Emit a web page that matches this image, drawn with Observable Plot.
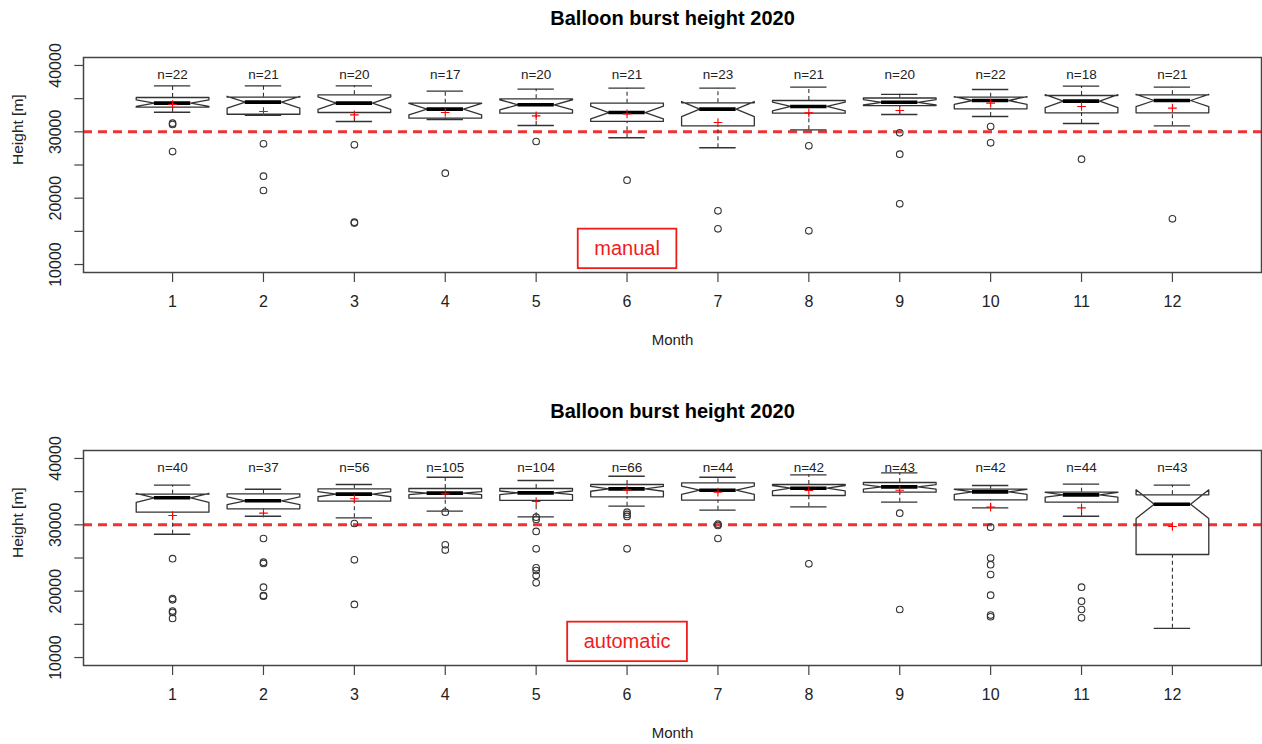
<!DOCTYPE html>
<html>
<head>
<meta charset="utf-8">
<script src="https://cdn.jsdelivr.net/npm/d3@7"></script>
<script src="https://cdn.jsdelivr.net/npm/@observablehq/plot@0.6"></script>
<style>
  html, body { margin: 0; padding: 0; background: #fff; }
  #chart { width: 1262px; }
  #chart svg { display: block; }
</style>
</head>
<body>
<div id="chart"></div>
<script>
// ---------- data ----------
const months = [1, 2, 3, 4, 5, 6, 7, 8, 9, 10, 11, 12];
const yTickLabels = [10000, 20000, 30000, 40000];
const threshold = 30000;
const titleText = "Balloon burst height 2020";

// manual launches
const manualN      = [22, 21, 20, 17, 20, 21, 23, 21, 20, 22, 18, 21];
const manualHigh   = [36930, 36930, 36930, 36130, 36430, 36580, 36580, 36730, 35650, 36380, 36880, 36730];
const manualQ3     = [35170, 35220, 35580, 34320, 34970, 34320, 34370, 34720, 35100, 35220, 35470, 35580];
const manualMedian = [34320, 34470, 34320, 33420, 34070, 32910, 33420, 33820, 34450, 34720, 34620, 34720];
const manualQ1     = [33720, 32650, 32910, 32060, 32810, 31560, 30900, 32810, 33950, 33470, 32860, 32860];
const manualLow    = [32960, 32500, 31560, 31860, 30950, 29100, 27590, 30300, 32600, 32310, 31260, 30900];
const manualMean   = [34120, 33060, 32560, 32910, 32410, 32710, 31400, 32860, 33210, 34320, 33820, 33570];
const manualOutliers = [
  [31300, 31100, 27030],
  [28190, 23320, 21160],
  [28040, 16390, 16250],
  [23770],
  [28540],
  [22720],
  [18090, 15380],
  [27890, 15080],
  [29850, 26630, 19150],
  [30800, 28340],
  [25880],
  [16890]
];

// automatic launches
const autoN      = [40, 37, 56, 105, 104, 66, 44, 42, 43, 42, 44, 43];
const autoHigh   = [35980, 35370, 36080, 37180, 36680, 37330, 37180, 37530, 37830, 35930, 36130, 35980];
const autoQ3     = [34620, 34670, 35420, 35470, 35470, 36080, 36330, 36080, 36380, 35370, 34920, 34520];
const autoMedian = [34070, 33620, 34620, 34770, 34820, 35420, 35220, 35520, 35720, 34970, 34520, 33110];
const autoQ1     = [31910, 32410, 33570, 34020, 33670, 34220, 33720, 34420, 34920, 33770, 33420, 25530];
const autoLow    = [28590, 31300, 31050, 32060, 31200, 32810, 32210, 32710, 33420, 32560, 31300, 14400];
const autoMean   = [31410, 31760, 33920, 34670, 33520, 35270, 34920, 35170, 35220, 32660, 32560, 29750];
const autoOutliers = [
  [24900, 18900, 18700, 17000, 16800, 15900],
  [27940, 24370, 24170, 20610, 19350, 19250],
  [30200, 24730, 18000],
  [31900, 27000, 26200],
  [31150, 30800, 29000, 26380, 23520, 23120, 22360, 21260],
  [31910, 31560, 31260, 26380],
  [30100, 29900, 27940],
  [24120],
  [31760, 17240],
  [29650, 25000, 24000, 22500, 19400, 16400, 16150],
  [20610, 18500, 17240, 15990],
  []
];

// ---------- drawing ----------
const FONT = "'Liberation Sans', Arial, Helvetica, sans-serif";
const INK = "#333";
const RED = "#f01c1c";
const HALF = 0.4; // half box width (R default width 0.8)

function panel({n, high, q3, med, q1, low, mean, outliers, label, height, marginBottom}) {
  const rows = months.map((m, i) => ({
    month: m, n: n[i], high: high[i], q3: q3[i], med: med[i], q1: q1[i], low: low[i], mean: mean[i]
  }));
  // R notched box outline: notch = median +/- 1.58 * IQR / sqrt(n)
  const poly = rows.flatMap(r => {
    const h = 1.58 * (r.q3 - r.q1) / Math.sqrt(r.n);
    const lo = r.med - h, hi = r.med + h, m = r.month;
    return [
      [m - HALF, r.q1], [m - HALF, lo], [m - HALF / 2, r.med], [m - HALF, hi], [m - HALF, r.q3],
      [m + HALF, r.q3], [m + HALF, hi], [m + HALF / 2, r.med], [m + HALF, lo], [m + HALF, r.q1],
      [m - HALF, r.q1]
    ].map(([x, y]) => ({month: m, x, y}));
  });
  const outs = months.flatMap((m, i) => outliers[i].map(v => ({month: m, value: v})));

  const svg = Plot.plot({
    width: 1262,
    height,
    marginLeft: 83,
    marginRight: 1,
    marginTop: 57,
    marginBottom,
    x: {type: "linear", domain: [0.02, 12.98]},
    y: {domain: [8800, 41200]},
    style: {fontFamily: FONT, background: "white", color: "#222", overflow: "visible"},
    marks: [
      Plot.ruleY([threshold], {stroke: RED, strokeOpacity: 0.9, strokeWidth: 3, strokeDasharray: "9,6"}),
      Plot.ruleX(rows, {x: "month", y1: "q3", y2: "high", stroke: INK, strokeWidth: 1.1, strokeDasharray: "4,3"}),
      Plot.ruleX(rows, {x: "month", y1: "low", y2: "q1", stroke: INK, strokeWidth: 1.1, strokeDasharray: "4,3"}),
      Plot.ruleY(rows, {y: "high", x1: d => d.month - HALF / 2, x2: d => d.month + HALF / 2, stroke: INK, strokeWidth: 1.4}),
      Plot.ruleY(rows, {y: "low", x1: d => d.month - HALF / 2, x2: d => d.month + HALF / 2, stroke: INK, strokeWidth: 1.4}),
      Plot.line(poly, {x: "x", y: "y", z: "month", stroke: INK, strokeWidth: 1.3}),
      Plot.ruleY(rows, {y: "med", x1: d => d.month - HALF / 2, x2: d => d.month + HALF / 2, stroke: "#000", strokeWidth: 3.6}),
      Plot.dot(outs, {x: "month", y: "value", r: 3.3, stroke: INK, strokeWidth: 1.1}),
      Plot.dot(rows, {x: "month", y: "mean", symbol: "plus", r: 2.9, stroke: "#ff0000", strokeWidth: 1.1}),
      Plot.text(rows, {x: "month", text: d => `n=${d.n}`, frameAnchor: "top", dy: 17, lineAnchor: "middle", fontSize: 13.5, fill: "#222"}),
      Plot.frame({stroke: "#444", strokeWidth: 1.5}),
      Plot.axisY({ticks: d3.range(10000, 40001, 5000), tickSize: 8.7, tickFormat: () => "", label: null, stroke: "#444", strokeWidth: 1.2}),
      Plot.text(yTickLabels, {y: d => d, text: d => String(d), frameAnchor: "left", dx: -28, rotate: -90, lineAnchor: "middle", textAnchor: "middle", fontSize: 16, fill: "#222"}),
      Plot.text(["Height [m]"], {frameAnchor: "left", dx: -65, rotate: -90, lineAnchor: "middle", fontSize: 15.5, fill: "#222"}),
      Plot.axisX({ticks: months, tickSize: 10, tickPadding: 13, tickFormat: d => String(d), label: null, fontSize: 16, stroke: "#444", strokeWidth: 1.2}),
      Plot.text(["Month"], {frameAnchor: "bottom", dy: 68, lineAnchor: "middle", fontSize: 15, fill: "#222"}),
      Plot.text([titleText], {frameAnchor: "top", dy: -39, lineAnchor: "middle", fontSize: 20, fontWeight: "bold", fill: "#000"}),
      Plot.text([label], {x: () => months[5], frameAnchor: "bottom", dy: -23.5, lineAnchor: "middle", fontSize: 20, fill: RED})
    ]
  });
  return svg;
}

const chart = document.getElementById("chart");
const panels = [
  {n: manualN, high: manualHigh, q3: manualQ3, med: manualMedian, q1: manualQ1, low: manualLow, mean: manualMean,
   outliers: manualOutliers, label: "manual", height: 393, marginBottom: 121},
  {n: autoN, high: autoHigh, q3: autoQ3, med: autoMedian, q1: autoQ1, low: autoLow, mean: autoMean,
   outliers: autoOutliers, label: "automatic", height: 351, marginBottom: 79}
];

for (const p of panels) {
  const svg = panel(p);
  chart.appendChild(svg);
  // boxed annotation (like R's legend box) around the label text
  const t = Array.from(svg.querySelectorAll("text")).find(el => el.textContent === p.label);
  if (t) {
    const sb = svg.getBoundingClientRect();
    const tb = t.getBoundingClientRect();
    const cx = tb.left + tb.width / 2 - sb.left;
    const cy = tb.top + tb.height / 2 - sb.top;
    const w = tb.width + 33, h = 39.5;
    const rect = document.createElementNS("http://www.w3.org/2000/svg", "rect");
    rect.setAttribute("x", cx - w / 2);
    rect.setAttribute("y", cy - h / 2);
    rect.setAttribute("width", w);
    rect.setAttribute("height", h);
    rect.setAttribute("fill", "none");
    rect.setAttribute("stroke", RED);
    rect.setAttribute("stroke-width", 1.8);
    svg.appendChild(rect);
  }
}
</script>
</body>
</html>
